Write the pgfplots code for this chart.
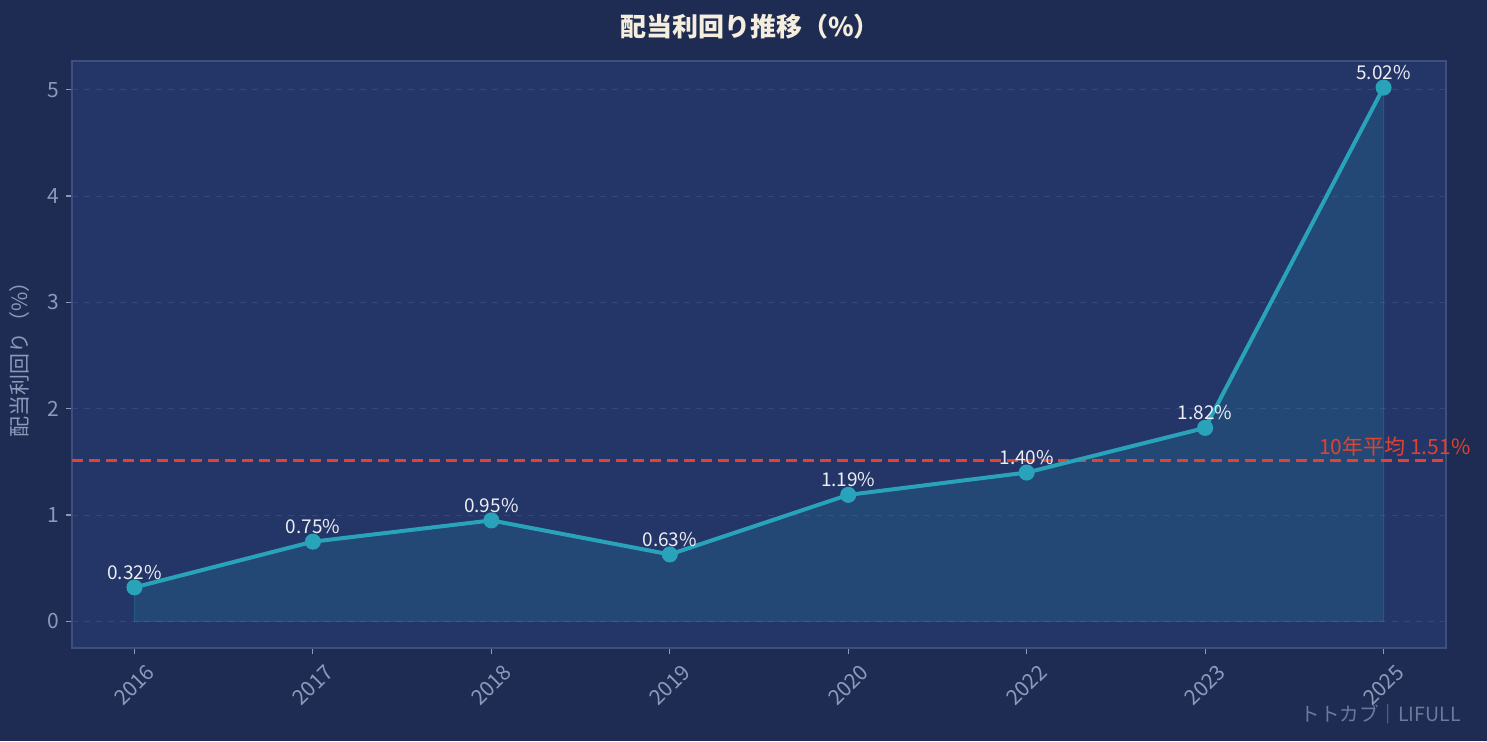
\documentclass[border=0pt]{standalone}
\usepackage{fontspec}
\setmainfont{Noto Sans CJK JP}
\usepackage{pgfplots}
\pgfplotsset{compat=1.18}
\usepackage{graphicx}

\definecolor{figbg}{HTML}{1E2B53}
\definecolor{axbg}{HTML}{243567}
\definecolor{spine}{HTML}{3D4F7A}
\definecolor{gridc}{HTML}{34467C}
\definecolor{tickc}{HTML}{8A9BBA}
\definecolor{linec}{HTML}{29A3B9}
\definecolor{avgc}{HTML}{E0432F}
\definecolor{titlec}{HTML}{F5EEDC}
\definecolor{labc}{HTML}{ECEEF4}
\definecolor{markc}{HTML}{6B7A9C}

\newcommand{\rl}[1]{\rotatebox{45}{#1}}

\begin{document}
\begin{tikzpicture}
% page = 1487 x 741 px, 1px = 0.5pt
\fill[figbg] (0,0) rectangle (743.5pt,370.5pt);
\useasboundingbox (0,0) rectangle (743.5pt,370.5pt);

\begin{axis}[
    at={(36pt,46.5pt)}, anchor=south west,
    scale only axis,
    width=687pt, height=293.5pt,
    xmin=-0.35, xmax=7.35,
    ymin=-0.25, ymax=5.27,
    axis background/.style={fill=axbg},
    axis line style={spine, line width=1pt},
    xtick={0,...,7},
    xticklabels={\rl{2016},\rl{2017},\rl{2018},\rl{2019},\rl{2020},\rl{2022},\rl{2023},\rl{2025}},
    ytick={0,1,2,3,4,5},
    tick align=outside,
    tick pos=left,
    major tick length=3pt,
    tick style={tickc, line width=0.6pt},
    xticklabel style={anchor=north, yshift=-1pt,
        font=\fontsize{10.5}{12}\selectfont, text=tickc},
    yticklabel style={font=\fontsize{10.5}{12}\selectfont, text=tickc},
    /pgf/number format/assume math mode=true,
    ymajorgrids,
    major grid style={gridc, dashed, line width=0.4pt},
    ylabel={配当利回り（\%）},
    ylabel style={font=\fontsize{10.5}{12}\selectfont, text=tickc, yshift=2pt},
    clip=false,
]

% area under the line
\addplot[draw=linec, draw opacity=0.25, line width=0.5pt, fill=linec, fill opacity=0.18]
coordinates {
    (0,0.32) (1,0.75) (2,0.95) (3,0.63) (4,1.19) (5,1.40) (6,1.82) (7,5.02)
} \closedcycle;

% 10-year average
\draw[avgc, line width=1.4pt, dash pattern=on 5.5pt off 3pt]
    (axis cs:-0.35,1.51) -- (axis cs:7.35,1.51);
\node[anchor=south east, inner sep=1pt, text=avgc, font=\fontsize{10.5}{12}\selectfont]
    at (axis cs:7.5,1.53) {10年平均 1.51\%};

% yield line
\addplot[linec, line width=2pt, mark=*, mark size=3pt, mark options={fill=linec, draw=linec},
    nodes near coords={\pgfmathprintnumber[fixed, fixed zerofill, precision=2]{\pgfplotspointmeta}\%},
    nodes near coords style={anchor=south, inner sep=1pt, yshift=2pt, text=labc,
        font=\fontsize{9.5}{11}\selectfont}]
coordinates {
    (0,0.32) (1,0.75) (2,0.95) (3,0.63) (4,1.19) (5,1.40) (6,1.82) (7,5.02)
};
\end{axis}

\node[anchor=center, text=titlec, font=\fontsize{13}{15}\selectfont\bfseries]
    at (375pt,357pt) {配当利回り推移（\%）};
\node[anchor=base east, inner sep=0pt, text=markc, font=\fontsize{9.75}{11}\selectfont]
    at (730.5pt,10pt) {トトカブ｜LIFULL};
\end{tikzpicture}
\end{document}
